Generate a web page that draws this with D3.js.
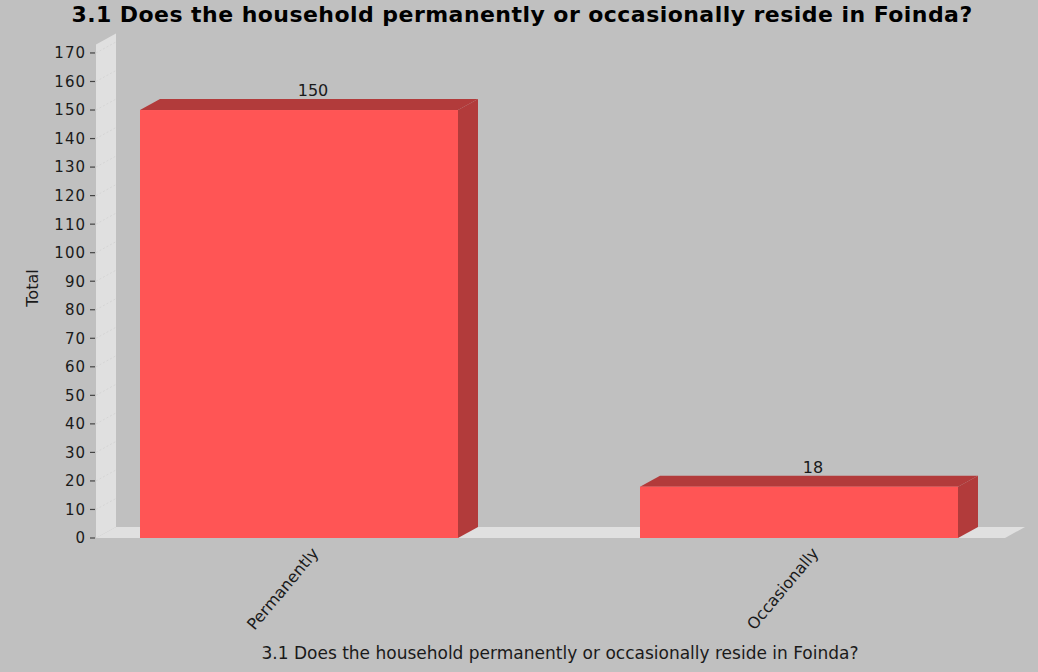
<!DOCTYPE html>
<html>
<head>
<meta charset="utf-8">
<script src="https://cdn.jsdelivr.net/npm/d3@7"></script>
<style>
  html, body { margin: 0; padding: 0; background: #c0c0c0; }
  svg { display: block; }
  text { font-family: "DejaVu Sans", sans-serif; fill: #1a1a1a; }
</style>
</head>
<body>
<svg id="chart" width="1038" height="672"></svg>
<script>
// Chart data
const chartTitle = "3.1 Does the household permanently or occasionally reside in Foinda?";
const xAxisTitle = "3.1 Does the household permanently or occasionally reside in Foinda?";
const yAxisTitle = "Total";
const categories = ["Permanently", "Occasionally"];
const totals = [150, 18];
const yTicks = [0, 10, 20, 30, 40, 50, 60, 70, 80, 90, 100, 110, 120, 130, 140, 150, 160, 170];

// 3D depth offset of the plot
const depthX = 20, depthY = -11;

const colors = {
  background: "#c0c0c0",
  wall: "#e0e0e0",
  wallEdge: "#d2d2d2",
  barFront: "#ff5555",
  barSide: "#b23b3b",
  tick: "#444444"
};

const svg = d3.select("#chart");
svg.append("rect").attr("width", 1038).attr("height", 672).attr("fill", colors.background);

const y = d3.scaleLinear().domain([0, 173]).range([538, 44.4]);
const x = d3.scaleBand().domain(categories).range([96, 1002])
  .paddingInner(0.364).paddingOuter(0.088);

const left = 96, right = 1005;
const y0 = y(0), yTop = y(173);

// Back wall (left side) and floor
svg.append("polygon")
  .attr("points", [[left, y0], [left, yTop], [left + depthX, yTop + depthY], [left + depthX, y0 + depthY]].join(" "))
  .attr("fill", colors.wall);
svg.append("polygon")
  .attr("points", [[left, y0], [left + depthX, y0 + depthY], [right + depthX, y0 + depthY], [right, y0]].join(" "))
  .attr("fill", colors.wall);

// Faint gridlines on the wall
svg.append("g").selectAll("line").data(yTicks.slice(1)).join("line")
  .attr("x1", left).attr("x2", left + depthX)
  .attr("y1", d => y(d)).attr("y2", d => y(d) + depthY)
  .attr("stroke", colors.wallEdge).attr("stroke-width", 0.8)
  .attr("stroke-dasharray", "2,2");

// Y axis ticks and labels
const yAxis = svg.append("g");
yAxis.selectAll("line").data(yTicks).join("line")
  .attr("x1", 90).attr("x2", 95)
  .attr("y1", d => y(d)).attr("y2", d => y(d))
  .attr("stroke", colors.tick).attr("stroke-width", 1.2);
yAxis.selectAll("text").data(yTicks).join("text")
  .attr("x", 86).attr("y", d => y(d)).attr("dy", "0.36em")
  .attr("text-anchor", "end")
  .style("font-size", "15px")
  .style("letter-spacing", "1px")
  .text(d => d);

// Bars in 3D: front face, top face, right side
const bars = svg.append("g").selectAll("g").data(categories.map((c, i) => ({ c, v: totals[i] }))).join("g");
bars.append("polygon")
  .attr("points", d => {
    const x0 = x(d.c), x1 = x(d.c) + x.bandwidth(), yt = y(d.v);
    return [[x0, yt], [x0 + depthX, yt + depthY], [x1 + depthX, yt + depthY], [x1, yt]].join(" ");
  })
  .attr("fill", colors.barSide);
bars.append("polygon")
  .attr("points", d => {
    const x1 = x(d.c) + x.bandwidth(), yt = y(d.v);
    return [[x1, yt], [x1 + depthX, yt + depthY], [x1 + depthX, y0 + depthY], [x1, y0]].join(" ");
  })
  .attr("fill", colors.barSide);
bars.append("rect")
  .attr("x", d => x(d.c)).attr("y", d => y(d.v))
  .attr("width", x.bandwidth()).attr("height", d => y0 - y(d.v))
  .attr("fill", colors.barFront);

// Value labels above each bar
bars.append("text")
  .attr("x", d => x(d.c) + x.bandwidth() / 2 + 14)
  .attr("y", d => y(d.v) + depthY - 3)
  .attr("text-anchor", "middle")
  .style("font-size", "16px")
  .text(d => d.v);

// Category labels, rotated
svg.append("g").selectAll("text").data(categories).join("text")
  .attr("transform", d => `translate(${x(d) + x.bandwidth() / 2 + 16},550) rotate(-50)`)
  .attr("text-anchor", "end")
  .attr("dy", "0.35em")
  .style("font-size", "16px")
  .text(d => d);

// Axis titles
svg.append("text")
  .attr("transform", "translate(38,288) rotate(-90)")
  .attr("text-anchor", "middle")
  .style("font-size", "16px")
  .text(yAxisTitle);

svg.append("text")
  .attr("x", 560).attr("y", 659)
  .attr("text-anchor", "middle")
  .style("font-size", "17px")
  .text(xAxisTitle);

// Chart title
svg.append("text")
  .attr("x", 522).attr("y", 22)
  .attr("text-anchor", "middle")
  .style("font-size", "22px")
  .style("font-weight", "bold")
  .style("letter-spacing", "0.45px")
  .style("fill", "#000")
  .text(chartTitle);
</script>
</body>
</html>
